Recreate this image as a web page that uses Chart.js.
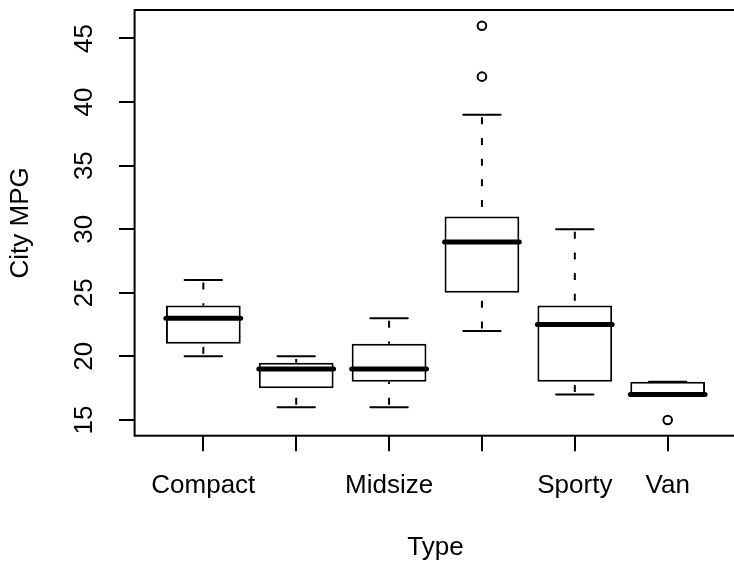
<!DOCTYPE html>
<html>
<head>
<meta charset="utf-8">
<script src="https://cdn.jsdelivr.net/npm/chart.js@4.4.1/dist/chart.umd.min.js"></script>
<style>
  html, body { margin: 0; padding: 0; background: #fff; overflow: hidden; }
  canvas { display: block; }
</style>
</head>
<body>
<canvas id="mpg-box" width="740" height="567"></canvas>
<script>
// City MPG by car type (box plot stats)
const categories = ['Compact', 'Large', 'Midsize', 'Small', 'Sporty', 'Van'];
const axisLabels = ['Compact', '', 'Midsize', '', 'Sporty', 'Van'];
const whiskerLow = [20, 16, 16, 22, 17, 17];
const q1 = [21, 17.5, 18, 25, 18, 17];
const median = [23, 19, 19, 29, 22.5, 17];
const q3 = [24, 19.5, 21, 31, 24, 18];
const whiskerHigh = [26, 20, 23, 39, 30, 18];
const outliers = [[], [], [], [42, 46], [], [15]];
const yTicks = [15, 20, 25, 30, 35, 40, 45];

const FONT = "'Liberation Sans', Arial, Helvetica, sans-serif";
const fontSize = 26;

const boxes = categories.map((c, i) => ({ x: i + 1, y: [q1[i], q3[i]] }));
const outlierPts = [];
outliers.forEach((list, i) => list.forEach(v => outlierPts.push({ x: i + 1, y: v })));

const boxExtras = {
  id: 'boxExtras',
  afterDatasetsDraw(chart) {
    const { ctx, scales: { x, y } } = chart;
    const meta = chart.getDatasetMeta(0);
    ctx.save();
    ctx.strokeStyle = '#000';
    categories.forEach((c, i) => {
      const bar = meta.data[i];
      const cx = x.getPixelForValue(i + 1);
      const half = bar.width / 2;
      const capHalf = half / 2;
      const yQ1 = y.getPixelForValue(q1[i]);
      const yQ3 = y.getPixelForValue(q3[i]);
      const yLo = y.getPixelForValue(whiskerLow[i]);
      const yHi = y.getPixelForValue(whiskerHigh[i]);

      // dashed whiskers, drawn from the end back toward the box
      ctx.lineWidth = 2;
      ctx.lineCap = 'butt';
      ctx.setLineDash([7, 13.7]);
      ctx.lineDashOffset = 18.2;
      [[yHi, yQ3], [yLo, yQ1]].forEach(([a, b]) => {
        if (Math.abs(a - b) < 0.5) return;
        ctx.beginPath();
        ctx.moveTo(cx, a);
        ctx.lineTo(cx, b);
        ctx.stroke();
      });
      ctx.setLineDash([]);

      // whisker caps
      ctx.lineCap = 'round';
      [yHi, yLo].forEach(py => {
        ctx.beginPath();
        ctx.moveTo(cx - capHalf, py);
        ctx.lineTo(cx + capHalf, py);
        ctx.stroke();
      });

      // median
      const yMed = y.getPixelForValue(median[i]);
      ctx.lineWidth = 5;
      ctx.beginPath();
      ctx.moveTo(cx - half, yMed);
      ctx.lineTo(cx + half, yMed);
      ctx.stroke();
    });
    ctx.restore();
  },
  afterDraw(chart) {
    const { ctx, chartArea: a } = chart;
    ctx.save();
    ctx.strokeStyle = '#000';
    ctx.lineWidth = 2;
    ctx.strokeRect(a.left, a.top, a.right - a.left, a.bottom - a.top);
    ctx.restore();
  }
};

function noPad(s) {
  s.paddingTop = 0;
  s.paddingBottom = 0;
  s.paddingLeft = 0;
  s.paddingRight = 0;
}

new Chart(document.getElementById('mpg-box'), {
  type: 'bar',
  data: {
    datasets: [{
      label: 'City MPG',
      data: boxes,
      backgroundColor: '#fff',
      borderColor: '#000',
      borderWidth: 2,
      borderSkipped: false,
      categoryPercentage: 1,
      barPercentage: 0.805
    }, {
      type: 'scatter',
      label: 'Outliers',
      data: outlierPts,
      pointStyle: 'circle',
      pointRadius: 4.3,
      pointBorderWidth: 2,
      pointBackgroundColor: '#fff',
      pointBorderColor: '#000'
    }]
  },
  options: {
    responsive: false,
    animation: false,
    devicePixelRatio: 1,
    // plot box runs just past the right edge of the picture
    layout: { autoPadding: false, padding: { top: 10, right: 3.6, left: 0, bottom: 0 } },
    plugins: {
      legend: { display: false },
      tooltip: { enabled: false }
    },
    scales: {
      x: {
        type: 'linear',
        offset: false,
        min: 0.26,
        max: 6.74,
        afterBuildTicks: s => { s.ticks = categories.map((c, i) => ({ value: i + 1 })); },
        afterFit: s => { s.height = 131.3; noPad(s); },
        border: { display: false },
        grid: { offset: false, drawOnChartArea: false, drawTicks: true, tickLength: 15.6, color: '#000', lineWidth: 2 },
        ticks: {
          autoSkip: false,
          maxRotation: 0,
          padding: 18.5,
          color: '#000',
          font: { family: FONT, size: fontSize },
          callback: v => axisLabels[v - 1]
        },
        title: {
          display: true,
          text: 'Type',
          color: '#000',
          font: { family: FONT, size: fontSize },
          padding: { top: 0, bottom: 3.1 }
        }
      },
      y: {
        min: 13.76,
        max: 47.24,
        afterBuildTicks: s => { s.ticks = yTicks.map(v => ({ value: v })); },
        afterFit: s => { s.width = 134.6; noPad(s); },
        border: { display: false },
        grid: { drawOnChartArea: false, drawTicks: true, tickLength: 15.6, color: '#000', lineWidth: 2 },
        ticks: {
          minRotation: 90,
          maxRotation: 90,
          crossAlign: 'center',
          padding: 19.8,
          color: '#000',
          font: { family: FONT, size: fontSize }
        },
        title: {
          display: true,
          text: 'City MPG',
          color: '#000',
          font: { family: FONT, size: fontSize },
          padding: { top: 5.4, bottom: 0 }
        }
      }
    }
  },
  plugins: [boxExtras]
});
</script>
</body>
</html>
